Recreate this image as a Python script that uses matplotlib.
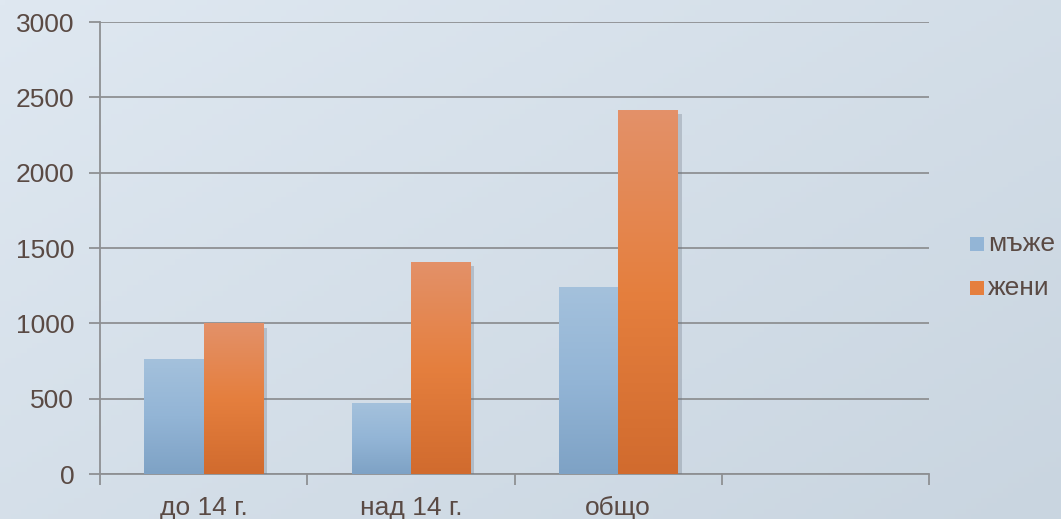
import numpy as np
import matplotlib
matplotlib.use("Agg")
import matplotlib.pyplot as plt
from matplotlib.patches import Rectangle
from matplotlib.colors import LinearSegmentedColormap
import matplotlib.patheffects as pe

categories = ["до 14 г.", "над 14 г.", "общо", ""]
series_names = ["мъже", "жени"]
men = [765, 470, 1240]
women = [1000, 1410, 2415]
yticks = [0, 500, 1000, 1500, 2000, 2500, 3000]

plt.rcParams['font.family'] = ['Liberation Sans', 'DejaVu Sans']
TXT = '#5a4a44'
GRID = '#8e9093'
FS = 19

W, H = 1061, 519
fig = plt.figure(figsize=(W / 100, H / 100), dpi=100)

# background gradient
bg = fig.add_axes([0, 0, 1, 1], zorder=-10)
xx, yy = np.meshgrid(np.linspace(0, 1, 200), np.linspace(0, 1, 100))
t = 0.55 * xx + 0.45 * yy
c0 = np.array([0xdf, 0xe8, 0xf1]) / 255
c1 = np.array([0xc9, 0xd5, 0xe0]) / 255
img = c0[None, None, :] * (1 - t[..., None]) + c1[None, None, :] * t[..., None]
bg.imshow(img, aspect='auto', extent=[0, 1, 0, 1], origin='upper')
bg.axis('off')

ax = fig.add_axes([100 / W, (H - 474) / H, (929 - 100) / W, (474 - 22) / H])
ax.patch.set_alpha(0)

n = len(categories)
x = np.arange(n)
gap = 1.5
bw = 1.0 / (2 + gap)

blue_cm = LinearSegmentedColormap.from_list('b', ['#a4c1dc', '#93b5d6', '#7ea2c5'])
orange_cm = LinearSegmentedColormap.from_list('o', ['#e39169', '#e57f3e', '#d16b2e'])
grad = np.linspace(0, 1, 256).reshape(-1, 1)


def draw_series(vals, offset, cmap, zo):
    bars = ax.bar(x[:len(vals)] + offset, vals, width=bw, align='edge',
                  color='none', edgecolor='none', zorder=zo)
    for b in bars:
        x0, y0, w, h = b.get_x(), b.get_y(), b.get_width(), b.get_height()
        sh = Rectangle((x0, y0), w, h, facecolor='none', edgecolor='none', zorder=zo - 0.5)
        sh.set_path_effects([pe.SimplePatchShadow(offset=(3, -3), shadow_rgbFace='#6a7380', alpha=0.3)])
        ax.add_patch(sh)
        im = ax.imshow(grad, cmap=cmap, aspect='auto', extent=[x0, x0 + w, y0, y0 + h],
                       origin='upper', zorder=zo)
        im.set_clip_path(b)
    return bars


draw_series(men, -bw, blue_cm, 3)
draw_series(women, 0, orange_cm, 3.2)

ax.set_xlim(-0.5, n - 0.5)
ax.set_ylim(0, 3000)
ax.set_yticks(yticks)
ax.set_yticklabels([str(v) for v in yticks])
ax.set_xticks(x)
ax.set_xticklabels(categories)
for lbl in ax.get_xticklabels():
    lbl.set_va('baseline')
ax.set_xticks(np.arange(-0.5, n, 1.0), minor=True)
ax.tick_params(axis='x', which='major', length=0, pad=29.5, labelsize=FS, labelcolor=TXT)
ax.tick_params(axis='x', which='minor', length=8, width=1.3, color=GRID, direction='out')
ax.tick_params(axis='y', length=8, width=1.3, color=GRID, direction='out', pad=10.5,
               labelsize=FS, labelcolor=TXT)
ax.yaxis.grid(True, color=GRID, linewidth=1.3)
ax.set_axisbelow(True)
for s in ['top', 'right']:
    ax.spines[s].set_visible(False)
for s in ['left', 'bottom']:
    ax.spines[s].set_color(GRID)
    ax.spines[s].set_linewidth(1.3)

# legend (manual placement)
leg_colors = ['#93b5d6', '#e57f3e']
leg_y = [244, 288]
for name, col, yc in zip(series_names, leg_colors, leg_y):
    fig.patches.append(Rectangle((970 / W, 1 - (yc + 7) / H), 14 / W, 14 / H,
                                 transform=fig.transFigure, facecolor=col, edgecolor='none'))
    fig.text(988 / W, 1 - yc / H, name, fontsize=FS, color=TXT, va='center', ha='left')

fig.savefig('out.png', dpi=100)
